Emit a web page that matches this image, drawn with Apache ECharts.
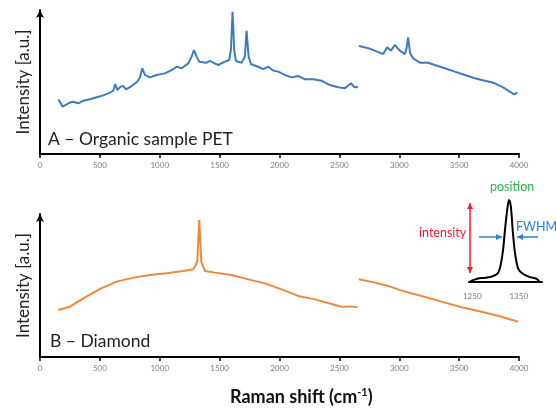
<!DOCTYPE html>
<html>
<head>
<meta charset="utf-8">
<script src="https://cdn.jsdelivr.net/npm/echarts@6/dist/echarts.min.js"></script>
<style>
  html, body { margin: 0; padding: 0; background: #fff; }
  #chart { width: 556px; height: 409px; }
</style>
</head>
<body>
<div id="chart"></div>
<script>
// spectrum A - PET, two detector windows
var petShiftA = [153, 189, 237, 273, 320, 362, 417, 473, 529, 584, 612, 629, 645, 673, 696, 718, 765, 812, 835, 854, 876, 918, 974, 1043, 1099, 1141, 1183, 1238, 1266, 1286, 1308, 1330, 1391, 1419, 1447, 1488, 1544, 1580, 1594, 1608, 1622, 1636, 1683, 1711, 1725, 1742, 1761, 1822, 1864, 1906, 1948, 1989, 2045, 2101, 2156, 2212, 2282, 2351, 2421, 2490, 2546, 2596, 2629, 2655];
var petIntA   = [38, 32.9, 35.2, 36.3, 35.2, 37, 38, 39.4, 40.7, 42.6, 44, 48.6, 44.4, 46.8, 47.2, 44.9, 47.2, 50.2, 53.2, 59.5, 54.9, 53.2, 54.9, 56, 58.3, 60.6, 59.5, 62.9, 67.6, 72.2, 67.6, 64.1, 63.4, 64.6, 63.4, 61.8, 64.1, 65.3, 72.2, 98.8, 72.2, 64.6, 63.4, 67.6, 85.6, 67.6, 62.5, 60.6, 59, 60.6, 57.9, 57.2, 54.9, 53.2, 54.2, 51.9, 51.9, 50.9, 47.9, 46.3, 45.6, 49.1, 46.3, 46.5];
var petShiftB = [2663, 2741, 2796, 2866, 2899, 2930, 2963, 3005, 3047, 3061, 3074, 3091, 3116, 3172, 3241, 3297, 3381, 3464, 3548, 3631, 3715, 3798, 3867, 3923, 3959, 3987];
var petIntB   = [75, 73.4, 71.8, 69.4, 74.1, 71.8, 75.7, 71.8, 69.4, 73.4, 81, 69.9, 66.4, 63.4, 63.4, 61.8, 59.5, 57.2, 54.9, 52.6, 50.9, 49.1, 46.3, 43.3, 41.4, 42.6];

// spectrum B - diamond
var diaShiftA = [153, 250, 362, 501, 640, 779, 918, 1057, 1196, 1280, 1313, 1330, 1347, 1377, 1461, 1600, 1739, 1878, 2017, 2156, 2295, 2435, 2518, 2600, 2652];
var diaIntA   = [32.9, 35.2, 41, 47.6, 52.7, 55.5, 57.3, 58.5, 60.1, 61.3, 66.6, 95.8, 66.6, 60.1, 59, 57.3, 54.3, 51.5, 47.3, 42.7, 40.3, 37.1, 35.2, 35.4, 34.7];
var diaShiftB = [2663, 2796, 2907, 3019, 3186, 3353, 3520, 3687, 3854, 3993];
var diaIntB   = [54.3, 52, 49.7, 46.4, 42.7, 38.7, 34.8, 31.7, 28.2, 24.7];

// inset: zoom on the diamond peak
var insetShift = [1246, 1261, 1274, 1289, 1304, 1310, 1316, 1321, 1326, 1329, 1333, 1337, 1342, 1349, 1359, 1374, 1388, 1394];
var insetInt   = [1, 4, 5, 6, 10, 18, 38, 67, 92, 100, 92, 63, 35, 16, 10, 6, 4, 1];
var insetTicks = [1250, 1350];
var peakPos = 1329;

function pairs(xs, ys) {
  var out = [];
  for (var i = 0; i < xs.length; i++) {
    out.push([xs[i], ys[i]]);
  }
  return out;
}

var blue = '#3d7cc2';
var orange = '#f0883a';
var font = 'Lato';

var myChart = echarts.init(document.getElementById('chart'));

function plain(v) { return String(v); }

function mainX(idx) {
  return {
    type: 'value', gridIndex: idx, min: 0, max: 4000, interval: 500,
    axisLine: { show: true, lineStyle: { color: '#000', width: 2 } },
    axisTick: { show: true, length: 4, lineStyle: { color: '#000', width: 1.5 } },
    axisLabel: { color: '#7f7f7f', fontSize: 8, fontFamily: font, margin: 7, formatter: plain },
    splitLine: { show: false }
  };
}

function mainY(idx) {
  return {
    type: 'value', gridIndex: idx, min: 0, max: 100,
    name: 'Intensity [a.u.]', nameLocation: 'middle', nameGap: 8, nameRotate: 90,
    nameTextStyle: { fontSize: 17, color: '#222', fontFamily: font },
    axisLine: { show: true, symbol: ['none', 'arrow'], symbolSize: [6, 8], lineStyle: { color: '#000', width: 2 } },
    axisTick: { show: false },
    axisLabel: { show: false },
    splitLine: { show: false }
  };
}

function arrow(x1, y1, x2, y2, color, both) {
  var dx = x2 - x1, dy = y2 - y1;
  var len = Math.sqrt(dx * dx + dy * dy);
  var ux = dx / len, uy = dy / len;
  function head(px, py, sx, sy) {
    return {
      type: 'polygon',
      shape: { points: [[px, py], [px - sx * 6 - sy * 3, py - sy * 6 + sx * 3], [px - sx * 6 + sy * 3, py - sy * 6 - sx * 3]] },
      style: { fill: color }
    };
  }
  var els = [{ type: 'line', shape: { x1: x1, y1: y1, x2: x2, y2: y2 }, style: { stroke: color, lineWidth: 1.5 } }];
  els.push(head(x2, y2, ux, uy));
  if (both) els.push(head(x1, y1, -ux, -uy));
  return els;
}

var graphics = [
  { type: 'text', left: 48, top: 130, style: { text: 'A \u2013 Organic sample PET', fontSize: 17.5, fontFamily: font, fill: '#222' } },
  { type: 'text', left: 50, top: 332, style: { text: 'B \u2013 Diamond', fontSize: 17.5, fontFamily: font, fill: '#222' } },
  {
    type: 'text', left: 230, top: 387,
    style: {
      text: '{a|Raman shift (cm}{s|-1}{a|)}',
      rich: {
        a: { fontSize: 18, fontWeight: 'bold', fill: '#111', fontFamily: font },
        s: { fontSize: 11, fontWeight: 'bold', fill: '#111', fontFamily: font, verticalAlign: 'top', padding: [0, 0, 9, 0] }
      }
    }
  },
  { type: 'text', left: 490, top: 180, style: { text: 'position', fontSize: 12.5, fontFamily: font, fill: '#2fb24c' } },
  { type: 'text', left: 419, top: 226, style: { text: 'intensity', fontSize: 12.5, fontFamily: font, fill: '#f0202a' } },
  { type: 'text', left: 516, top: 220, style: { text: 'FWHM', fontSize: 12.5, fontFamily: font, fill: '#2f7fd0' } }
];
graphics = graphics
  .concat(arrow(470, 203, 470, 273, '#f0202a', true))
  .concat(arrow(479, 237, 502, 237, '#2f7fd0', false))
  .concat(arrow(538, 237, 517, 237, '#2f7fd0', false));

var option = {
  animation: false,
  backgroundColor: '#fff',
  grid: [
    { left: 40, right: 37, top: 10, bottom: 255 },
    { left: 40, right: 37, top: 214, bottom: 52 },
    { left: 469, width: 73, top: 200, height: 82 }
  ],
  xAxis: [
    mainX(0),
    mainX(1),
    {
      type: 'value', gridIndex: 2, min: 1243, max: 1400,
      axisLine: { show: true, lineStyle: { color: '#000', width: 2 } },
      axisTick: { show: false },
      axisLabel: { color: '#7f7f7f', fontSize: 8, fontFamily: font, margin: 10, customValues: insetTicks, formatter: plain },
      splitLine: { show: false }
    }
  ],
  yAxis: [
    mainY(0),
    mainY(1),
    { type: 'value', gridIndex: 2, min: 0, max: 100, show: false }
  ],
  graphic: graphics,
  series: [
    { type: 'line', xAxisIndex: 0, yAxisIndex: 0, data: pairs(petShiftA, petIntA), showSymbol: false, lineStyle: { color: blue, width: 2 } },
    { type: 'line', xAxisIndex: 0, yAxisIndex: 0, data: pairs(petShiftB, petIntB), showSymbol: false, lineStyle: { color: blue, width: 2 } },
    { type: 'line', xAxisIndex: 1, yAxisIndex: 1, data: pairs(diaShiftA, diaIntA), showSymbol: false, lineStyle: { color: orange, width: 2 } },
    { type: 'line', xAxisIndex: 1, yAxisIndex: 1, data: pairs(diaShiftB, diaIntB), showSymbol: false, lineStyle: { color: orange, width: 2 } },
    {
      type: 'line', xAxisIndex: 2, yAxisIndex: 2, data: pairs(insetShift, insetInt), showSymbol: false, smooth: 0.3,
      lineStyle: { color: '#000', width: 2 },
      markLine: {
        silent: true, symbol: 'none', label: { show: false },
        lineStyle: { color: '#2fb24c', type: 'dashed', width: 1.5 },
        data: [[{ coord: [peakPos, 0] }, { coord: [peakPos, 112] }]]
      }
    }
  ]
};

myChart.setOption(option);
</script>
</body>
</html>
